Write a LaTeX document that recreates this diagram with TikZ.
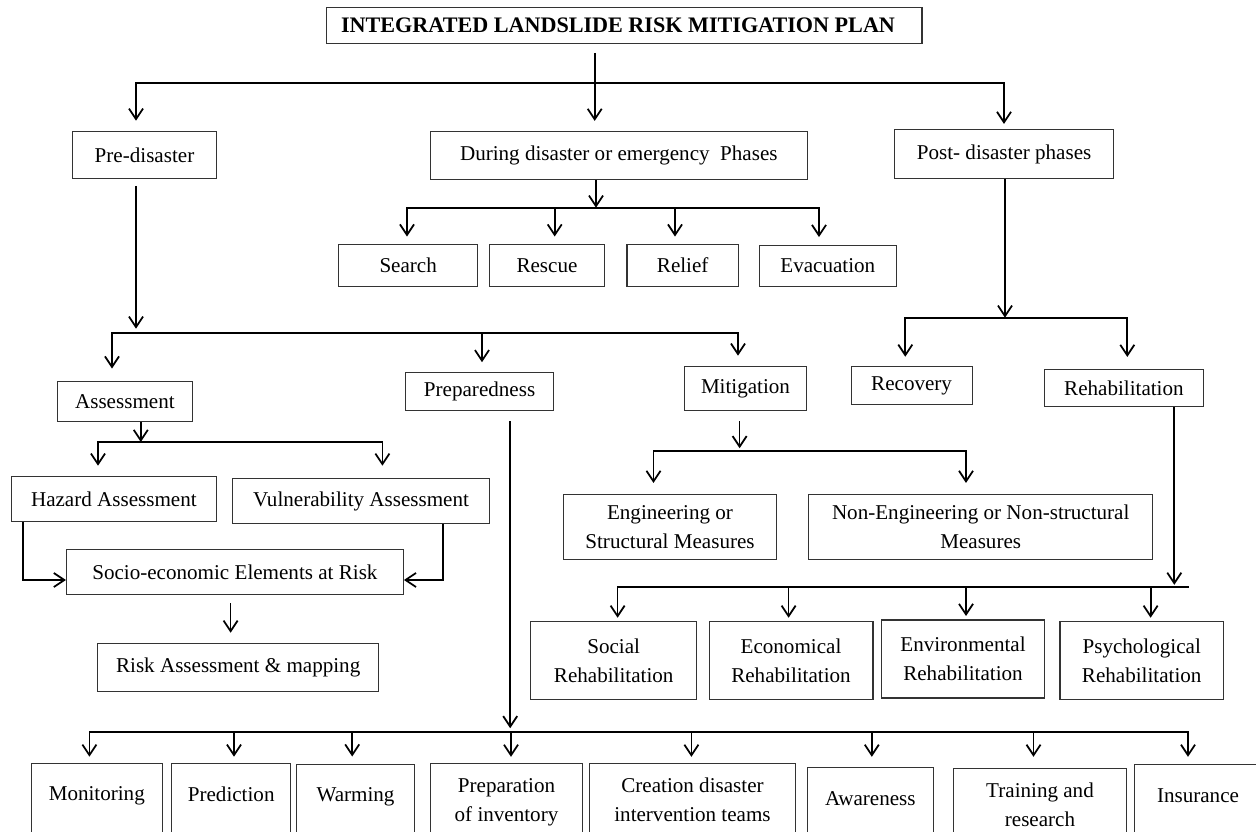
\documentclass[tikz,border=0pt]{standalone}
\usepackage{fontspec}
\setmainfont{Liberation Serif}
\usetikzlibrary{arrows.meta}

\tikzset{
  box/.style={draw=black!80, line width=0.6pt, inner sep=2pt},
  wire/.style={line width=1pt},
  arr/.style={wire, -{Straight Barb[length=6pt,width=8pt]}, shorten >=0.2cm},
  lowbox/.style={box, anchor=north, inner sep=0pt},
}
% box of the last row: text at the top, lower edge below the page
\newcommand{\lowcell}[3]{\parbox[c][1.7cm][t]{#1}{\centering\vspace*{#2}#3}}

\begin{document}
\fontsize{12pt}{16.5pt}\selectfont
\begin{tikzpicture}[x=0.02cm, y=-0.02cm]
\useasboundingbox (0,0) rectangle (1256,831);

% top
\node[box, font=\bfseries\fontsize{12.6pt}{16pt}\selectfont, minimum width=11.91cm, minimum height=0.73cm] (title) at (624.3,25.7) {\hspace*{-0.25cm}INTEGRATED LANDSLIDE RISK MITIGATION PLAN};
\node[box, minimum width=2.87cm, minimum height=0.95cm] (pre) at (144.5,155) {Pre-disaster};
\node[box, minimum width=7.53cm, minimum height=0.97cm] (during) at (618.8,155.7) {During disaster or emergency\ \ Phases};
\node[box, minimum width=4.38cm, minimum height=0.97cm] (post) at (1004.1,154.2) {Post- disaster phases};

% during disaster
\node[box, minimum width=2.78cm, minimum height=0.83cm] (search) at (408.2,265.3) {Search};
\node[box, minimum width=2.30cm, minimum height=0.83cm] (rescue) at (547,265.3) {Rescue};
\node[box, minimum width=2.23cm, minimum height=0.83cm] (relief) at (682.7,265.3) {Relief};
\node[box, minimum width=2.74cm, minimum height=0.83cm] (evac) at (827.8,265.8) {Evacuation};

% second level
\node[box, minimum width=2.69cm, minimum height=0.79cm] (assess) at (124.9,401.3) {Assessment};
\node[box, minimum width=2.97cm, minimum height=0.76cm] (prep) at (479.6,391.7) {Preparedness};
\node[box, minimum width=2.44cm, minimum height=0.88cm] (mitig) at (745.5,388.7) {Mitigation};
\node[box, minimum width=2.42cm, minimum height=0.75cm] (recov) at (911.6,385.5) {Recovery};
\node[box, minimum width=3.19cm, minimum height=0.75cm] (rehab) at (1123.9,388.2) {Rehabilitation};

% assessment
\node[box, minimum width=4.10cm, minimum height=0.90cm] (hazard) at (113.9,499.2) {Hazard Assessment};
\node[box, minimum width=5.13cm, minimum height=0.89cm] (vuln) at (361,501) {Vulnerability Assessment};
\node[box, minimum width=6.74cm, minimum height=0.90cm] (socio) at (234.9,571.8) {Socio-economic Elements at Risk};
\node[box, minimum width=5.62cm, minimum height=0.97cm] (risk) at (238.2,667.5) {Risk Assessment \& mapping};

% mitigation
\node[box, align=center, minimum width=4.25cm, minimum height=1.29cm] (eng) at (670,527.2) {Engineering or\\Structural Measures};
\node[box, align=center, minimum width=6.88cm, minimum height=1.29cm] (noneng) at (980.7,527.2) {Non-Engineering or Non-structural\\Measures};

% rehabilitation
\node[box, align=center, minimum width=3.32cm, minimum height=1.55cm] (social) at (613.7,660.5) {Social\\Rehabilitation};
\node[box, align=center, minimum width=3.28cm, minimum height=1.55cm] (econ) at (791,660.5) {Economical\\Rehabilitation};
\node[box, align=center, minimum width=3.27cm, minimum height=1.56cm] (envir) at (963,659) {Environmental\\Rehabilitation};
\node[box, align=center, minimum width=3.27cm, minimum height=1.55cm] (psych) at (1141.7,660.5) {Psychological\\Rehabilitation};

% preparedness
\node[lowbox] (monit) at (96.8,762.7) {\lowcell{2.63cm}{0.47cm}{Monitoring}};
\node[lowbox] (predic) at (231.2,762.7) {\lowcell{2.38cm}{0.47cm}{Prediction}};
\node[lowbox] (warm) at (355.5,764) {\lowcell{2.35cm}{0.47cm}{Warming}};
\node[lowbox] (prepinv) at (506.5,763.3) {\lowcell{3.04cm}{0.29cm}{Preparation\\of inventory}};
\node[lowbox] (creat) at (692.5,763.3) {\lowcell{4.12cm}{0.29cm}{Creation disaster\\intervention teams}};
\node[lowbox] (aware) at (870.3,767.3) {\lowcell{2.53cm}{0.47cm}{Awareness}};
\node[lowbox] (train) at (1040,768.3) {\lowcell{3.46cm}{0.29cm}{Training and\\research}};
\node[lowbox] (insur) at (1198,764.3) {\lowcell{2.56cm}{0.47cm}{Insurance}};

% connectors
\coordinate (j1) at (594.7,83);
\draw[arr, shorten <=0.17cm] (594.7,0 |- title.south) -- (594.7,0 |- during.north);
\draw[arr] (j1) -| (136,0 |- pre.north);
\draw[arr, shorten >=0.11cm] (j1) -| (1004,0 |- post.north);

\coordinate (j2) at (596,207.7);
\draw[arr, shorten >=0pt] (596,0 |- during.south) -- (j2);
\foreach \xx/\nn in {407/search, 554.7/rescue, 675/relief, 819/evac}
  \draw[arr, shorten >=0.15cm] (j2) -| (\xx,0 |- \nn.north);

\coordinate (j3) at (136,332.7);
\draw[arr, shorten <=0.13cm, shorten >=0.08cm] (136,0 |- pre.south) -- (j3);
\draw[arr, shorten >=0.25cm] (j3) -| (112,0 |- assess.north);
\draw[arr] (j3) -| (482,0 |- prep.north);
\draw[arr, shorten >=0.21cm] (j3) -| (738,0 |- mitig.north);

\coordinate (j4) at (1005,317.7);
\draw[arr, shorten >=0pt] (1005,0 |- post.south) -- (j4);
\draw[arr, shorten >=0.19cm] (j4) -| (905.3,0 |- recov.north);
\draw[arr, shorten >=0.24cm] (j4) -| (1127.3,0 |- rehab.north);

\coordinate (j5) at (140.8,442);
\draw[arr, shorten >=0pt] (140.8,0 |- assess.south) -- (j5);
\draw[arr, shorten >=0.21cm] (j5) -| (98,0 |- hazard.north);
\draw[arr, shorten >=0.25cm] (j5) -| (382.4,0 |- vuln.north);
\draw[arr, shorten >=0pt] (23.3,0 |- hazard.south) |- (socio.west |- 0,580);
\draw[arr, shorten >=0pt] (443.3,0 |- vuln.south) |- (socio.east |- 0,580);
\draw[arr, shorten <=0.17cm] (230.6,0 |- socio.south) -- (230.6,0 |- risk.north);

\coordinate (j6) at (510.2,731.7);
\draw[arr, shorten <=0.2cm, shorten >=0.07cm] (510.2,0 |- prep.south) -- (j6);
\foreach \xx/\nn/\gap in {89.4/monit/0.12, 234/predic/0.12, 352.2/warm/0.15, 511/prepinv/0.13, 691.4/creat/0.13, 871.8/aware/0.21, 1033.5/train/0.23, 1188/insur/0.15}
  \draw[arr, shorten >=\gap cm] (j6) -| (\xx,0 |- \nn.north);

\coordinate (j7) at (739.6,450.7);
\draw[arr, shorten <=0.2cm, shorten >=0.05cm] (739.6,0 |- mitig.south) -- (j7);
\draw[arr, shorten >=0.23cm] (j7) -| (653.5,0 |- eng.north);
\draw[arr, shorten >=0.23cm] (j7) -| (966,0 |- noneng.north);

\coordinate (j8) at (1174.3,587.3);
\coordinate (j8e) at (1189.4,587.3);
\draw[arr, shorten >=0.05cm] (1174.3,0 |- rehab.south) -- (j8);
\draw[wire] (j8) -- (j8e);
\foreach \xx/\nn in {617.6/social, 788.6/econ, 966/envir, 1150.6/psych}
  \draw[arr, shorten >=0.07cm] (j8) -| (\xx,0 |- \nn.north);
\end{tikzpicture}
\end{document}
